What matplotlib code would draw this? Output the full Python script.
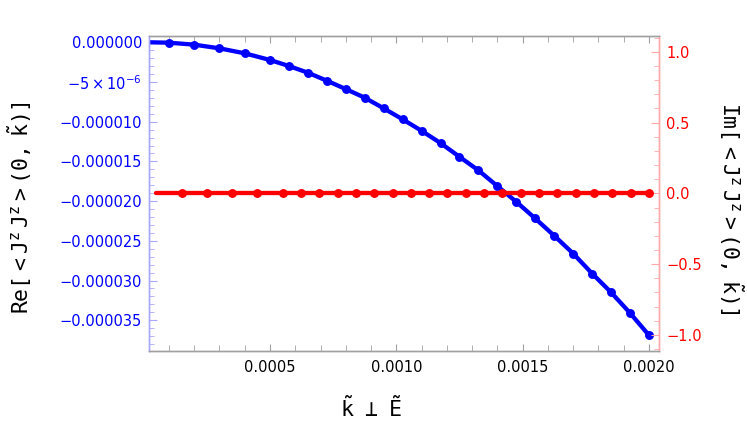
import matplotlib
matplotlib.use('Agg')
import matplotlib.pyplot as plt
from matplotlib.ticker import MultipleLocator, FixedLocator, FixedFormatter

# Re part (left axis)
re_k = [0.00002, 0.0001, 0.0002, 0.0003, 0.0004, 0.0005, 0.000575, 0.00065,
        0.000725, 0.0008, 0.000875, 0.00095, 0.001025, 0.0011, 0.001175,
        0.00125, 0.001325, 0.0014, 0.001475, 0.00155, 0.001625, 0.0017,
        0.001775, 0.00185, 0.001925, 0.002]
re_val = [0.0, -0.05e-6, -0.30e-6, -0.76e-6, -1.39e-6, -2.23e-6, -2.99e-6,
          -3.83e-6, -4.84e-6, -5.89e-6, -6.98e-6, -8.32e-6, -9.70e-6,
          -11.15e-6, -12.69e-6, -14.42e-6, -16.13e-6, -18.11e-6, -20.09e-6,
          -22.19e-6, -24.36e-6, -26.60e-6, -29.12e-6, -31.49e-6, -34.09e-6,
          -36.89e-6]

# Im part (right axis)
im_k = [0.00005, 0.00015, 0.00025, 0.00035, 0.00045, 0.00055, 0.000622,
        0.000695, 0.000768, 0.00084, 0.000912, 0.000985, 0.001058, 0.00113,
        0.001202, 0.001275, 0.001348, 0.00142, 0.001492, 0.001565, 0.001638,
        0.00171, 0.001782, 0.001855, 0.001928, 0.002]
im_val = [0.0] * len(im_k)

left_ticks = [0.0, -5e-6, -10e-6, -15e-6, -20e-6, -25e-6, -30e-6, -35e-6]
left_labels = ['0.000000', r'$\mathregular{-5\times10^{-6}}$', '\u22120.000010',
               '\u22120.000015', '\u22120.000020', '\u22120.000025',
               '\u22120.000030', '\u22120.000035']

blue = '#0000ff'
red = '#ff0000'

fig = plt.figure(figsize=(7.47, 4.25), dpi=100)
ax = fig.add_axes([149 / 747, 1 - 350.7 / 425, (659.3 - 149) / 747, (350.7 - 35.7) / 425])
ax2 = ax.twinx()

ax.plot(re_k, re_val, color=blue, lw=3.1, marker='o', ms=5.4,
        markevery=slice(1, None), solid_capstyle='round')
ax2.plot(im_k, im_val, color=red, lw=3.1, marker='o', ms=5.4,
         markevery=slice(1, None), solid_capstyle='round')

ax.set_xlim(0.000021, 0.002041)
ax.set_ylim(-3.884e-5, 0.83e-6)
ax2.set_ylim(-1.111, 1.113)

ax.xaxis.set_major_locator(FixedLocator([0.0005, 0.001, 0.0015, 0.002]))
ax.xaxis.set_major_formatter(FixedFormatter(['0.0005', '0.0010', '0.0015', '0.0020']))
ax.xaxis.set_minor_locator(MultipleLocator(0.0001))
ax.yaxis.set_major_locator(FixedLocator(left_ticks))
ax.yaxis.set_major_formatter(FixedFormatter(left_labels))
ax.yaxis.set_minor_locator(MultipleLocator(1e-6))
ax2.yaxis.set_major_locator(MultipleLocator(0.5))
ax2.yaxis.set_minor_locator(MultipleLocator(0.1))
ax2.yaxis.set_major_formatter(plt.FuncFormatter(lambda v, p: f'{v:.1f}'.replace('-', '\u2212')))

for a in (ax, ax2):
    for s in a.spines.values():
        s.set_linewidth(1.0)
    a.spines['top'].set_color('#a0a0a0')
    a.spines['bottom'].set_color('#a0a0a0')
    a.spines['left'].set_color('#a8a8ff')
    a.spines['right'].set_color('#ffa8a8')

ax.tick_params(axis='x', which='both', direction='in', top=True, color='#a0a0a0',
               labelsize=10.5, pad=7)
ax.tick_params(axis='x', which='major', length=5)
ax.tick_params(axis='x', which='minor', length=4)
ax.tick_params(axis='y', which='both', direction='in', color='#a8a8ff',
               labelcolor=blue, labelsize=10.5, pad=5)
ax.tick_params(axis='y', which='major', length=6)
ax.tick_params(axis='y', which='minor', length=3.5)
ax2.tick_params(axis='y', which='both', direction='in', color='#ffa8a8',
                labelcolor=red, labelsize=10.5, pad=5)
ax2.tick_params(axis='y', which='major', length=6)
ax2.tick_params(axis='y', which='minor', length=3.5)

fig.text(371 / 747, 1 - 408 / 425, r'$\mathtt{\tilde{k}\ \perp\ \tilde{E}}$',
         ha='center', va='center', fontsize=15.5)
fig.text(20 / 747, 1 - 208 / 425, r'$\mathtt{Re[{<}J^{z}\,J^{z}{>}(0,\,\tilde{k})]}$',
         ha='center', va='center', rotation=90, fontsize=15.5)
fig.text(731 / 747, 1 - 208 / 425, r'$\mathtt{Im[{<}J^{z}\,J^{z}{>}(0,\,\tilde{k})]}$',
         ha='center', va='center', rotation=-90, fontsize=15.5)

fig.savefig('out.png', dpi=100)
